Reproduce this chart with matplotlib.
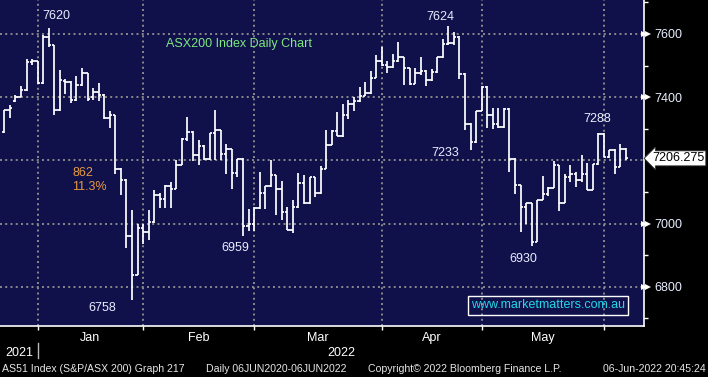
import numpy as np
import pandas as pd
import matplotlib.pyplot as plt
from matplotlib.transforms import blended_transform_factory

plt.rcParams['font.family'] = ['Liberation Sans', 'DejaVu Sans']

# trading days shown on the chart
dates = ['2021-12-21', '2021-12-22', '2021-12-23', '2021-12-24', '2021-12-29', '2021-12-30', '2021-12-31',
         '2022-01-04', '2022-01-05', '2022-01-06', '2022-01-07', '2022-01-10', '2022-01-11', '2022-01-12',
         '2022-01-13', '2022-01-14', '2022-01-17', '2022-01-18', '2022-01-19', '2022-01-20', '2022-01-21',
         '2022-01-24', '2022-01-25', '2022-01-27', '2022-01-28', '2022-01-31',
         '2022-02-01', '2022-02-02', '2022-02-03', '2022-02-04', '2022-02-07', '2022-02-08', '2022-02-09',
         '2022-02-10', '2022-02-11', '2022-02-14', '2022-02-15', '2022-02-16', '2022-02-17', '2022-02-18',
         '2022-02-21', '2022-02-22', '2022-02-23', '2022-02-24', '2022-02-25', '2022-02-28',
         '2022-03-01', '2022-03-02', '2022-03-03', '2022-03-04', '2022-03-07', '2022-03-08', '2022-03-09',
         '2022-03-10', '2022-03-11', '2022-03-14', '2022-03-15', '2022-03-16', '2022-03-17', '2022-03-18',
         '2022-03-21', '2022-03-22', '2022-03-23', '2022-03-24', '2022-03-25', '2022-03-28', '2022-03-29',
         '2022-03-30', '2022-03-31',
         '2022-04-01', '2022-04-04', '2022-04-05', '2022-04-06', '2022-04-07', '2022-04-08', '2022-04-11',
         '2022-04-12', '2022-04-13', '2022-04-14', '2022-04-19', '2022-04-20', '2022-04-21', '2022-04-22',
         '2022-04-26', '2022-04-27', '2022-04-28', '2022-04-29',
         '2022-05-02', '2022-05-03', '2022-05-04', '2022-05-05', '2022-05-06', '2022-05-09', '2022-05-10',
         '2022-05-11', '2022-05-12', '2022-05-13', '2022-05-16', '2022-05-17', '2022-05-18', '2022-05-19',
         '2022-05-20', '2022-05-23', '2022-05-24', '2022-05-25', '2022-05-26', '2022-05-27', '2022-05-30',
         '2022-05-31',
         '2022-06-01', '2022-06-02', '2022-06-03', '2022-06-06']

opens = [7290, 7359, 7387, 7401, 7422, 7512, 7513,
         7444, 7589, 7565, 7358, 7450, 7448, 7391, 7438, 7475, 7400, 7417, 7408, 7335, 7343, 7174, 7139, 6961, 6838, 6985,
         6972, 7004, 7089, 7078, 7120, 7110, 7186, 7268, 7290, 7218, 7245, 7205, 7285, 7295, 7221, 7235, 7161, 7205, 6991, 6997,
         7050, 7097, 7118, 7152, 7110, 7038, 6981, 7052, 7128, 7064, 7146, 7096, 7174, 7250, 7294, 7277, 7343, 7378, 7388, 7405, 7412, 7462, 7514,
         7502, 7494, 7514, 7526, 7491, 7443, 7478, 7484, 7454, 7480, 7526, 7567, 7570, 7592, 7473, 7316, 7258, 7356,
         7433, 7345, 7316, 7304, 7364, 7205, 7121, 7051, 7064, 6941, 7075, 7093, 7113, 7184, 7066, 7147, 7158, 7138, 7156, 7107, 7188, 7283,
         7211, 7234, 7179, 7237]
highs = [7360, 7375, 7406, 7435, 7520, 7521, 7515,
         7597, 7620, 7565, 7486, 7458, 7450, 7467, 7492, 7478, 7428, 7446, 7410, 7356, 7345, 7176, 7140, 7043, 7000, 6999,
         7043, 7107, 7096, 7121, 7131, 7202, 7270, 7336, 7292, 7264, 7247, 7287, 7359, 7297, 7251, 7237, 7205, 7207, 7047, 7052,
         7163, 7118, 7200, 7154, 7133, 7052, 7073, 7160, 7152, 7147, 7148, 7181, 7297, 7295, 7352, 7378, 7390, 7401, 7431, 7449, 7484, 7533, 7558,
         7514, 7537, 7576, 7528, 7493, 7491, 7526, 7486, 7488, 7528, 7583, 7624, 7605, 7594, 7475, 7318, 7357, 7435,
         7435, 7367, 7367, 7367, 7367, 7207, 7123, 7066, 7066, 7075, 7149, 7114, 7198, 7186, 7156, 7186, 7163, 7218, 7190, 7188, 7285, 7288,
         7234, 7235, 7253, 7238]
lows = [7288, 7335, 7385, 7400, 7420, 7503, 7443,
        7443, 7560, 7343, 7356, 7410, 7380, 7389, 7435, 7389, 7390, 7389, 7330, 7301, 7156, 7089, 6922, 6758, 6836, 6936,
        6948, 7003, 7050, 7050, 7050, 7108, 7185, 7260, 7197, 7184, 7200, 7200, 7200, 7202, 7158, 7110, 7147, 6959, 6976, 6976,
        7045, 7045, 7116, 7028, 7012, 6978, 6970, 7050, 7063, 7062, 7084, 7094, 7172, 7248, 7276, 7275, 7330, 7356, 7386, 7403, 7410, 7460, 7500,
        7477, 7492, 7512, 7438, 7438, 7441, 7470, 7435, 7452, 7478, 7524, 7565, 7565, 7459, 7295, 7233, 7256, 7355,
        7303, 7300, 7303, 7302, 7163, 7094, 6973, 6997, 6930, 6940, 7073, 7088, 7111, 7039, 7064, 7130, 7115, 7130, 7107, 7105, 7186, 7210,
        7208, 7156, 7178, 7200]
closes = [7359, 7367, 7401, 7422, 7512, 7513, 7444,
          7589, 7565, 7358, 7453, 7448, 7390, 7438, 7475, 7393, 7417, 7408, 7333, 7343, 7174, 7139, 6961, 6838, 6985, 6972,
          7004, 7089, 7078, 7120, 7110, 7186, 7268, 7290, 7218, 7245, 7205, 7285, 7295, 7221, 7235, 7161, 7205, 6991, 6997, 7050,
          7097, 7118, 7152, 7110, 7038, 6981, 7052, 7128, 7064, 7146, 7096, 7174, 7250, 7294, 7277, 7343, 7378, 7388, 7405, 7412, 7462, 7514, 7502,
          7494, 7514, 7526, 7491, 7443, 7478, 7484, 7454, 7480, 7526, 7567, 7570, 7592, 7473, 7316, 7258, 7356, 7433,
          7345, 7316, 7304, 7364, 7205, 7121, 7051, 7064, 6941, 7075, 7093, 7113, 7184, 7066, 7147, 7158, 7138, 7156, 7107, 7188, 7283, 7211,
          7234, 7179, 7237, 7206.275]

month_names = ['Jan', 'Feb', 'Mar', 'Apr', 'May']
y_ticks = [6800, 7000, 7200, 7400, 7600]
y_minor = [6700, 6900, 7100, 7300, 7500, 7700]

# (date, which end, label offset in pixels)
marks = [('2022-01-05', 'high', 8, 12), ('2022-01-27', 'low', -30, -8),
         ('2022-02-24', 'low', -8, -12), ('2022-04-20', 'high', -8, 9),
         ('2022-04-27', 'low', -25, -3), ('2022-05-12', 'low', -8, -13),
         ('2022-05-31', 'high', -7, 14)]

bg = '#10104a'
dt = pd.to_datetime(dates)
x = np.arange(len(dates))
last = closes[-1]

fig = plt.figure(figsize=(7.08, 3.77), dpi=100, facecolor='black')
ax = fig.add_axes([0, 51 / 377, 644 / 708, 326 / 377])
ax.set_facecolor(bg)
ax.set_xlim(-0.78, 115.25)
ax.set_ylim(6675.5, 7707.6)

# grid
month_end = [i for i in range(len(dt) - 1) if dt[i].month != dt[i + 1].month]
for v in month_end:
    ax.axvline(v, color='#8a8a8a', lw=1.4, ls=(0, (1, 1.7)), zorder=1)
for v in y_ticks:
    ax.axhline(v, color='#8a8a8a', lw=1.4, ls=(0, (1, 1.7)), zorder=1)

# OHLC bars
w = 0.45
ax.vlines(x, lows, highs, color='white', lw=1.25, zorder=3)
ax.hlines(opens, x - w, x, color='white', lw=1.25, zorder=3)
ax.hlines(closes, x, x + w, color='white', lw=1.25, zorder=3)

# spines and axes
for s in ['top', 'left']:
    ax.spines[s].set_visible(False)
for s in ['bottom', 'right']:
    ax.spines[s].set_color('white')
    ax.spines[s].set_linewidth(1.2)

# the last-price box sits over the 7200 label
shown = [v for v in y_ticks if abs(v - last) > 40]
ax.yaxis.tick_right()
ax.set_yticks(y_ticks, [str(v) if v in shown else '' for v in y_ticks])
ax.set_yticks(y_minor, minor=True)
ax.tick_params(axis='y', which='major', length=0, pad=7.5, labelsize=9, labelcolor='#e8eeff')
ax.tick_params(axis='y', which='minor', length=3, width=1, color='white', direction='out')
tr_y = blended_transform_factory(ax.transAxes, ax.transData)
for xo in [1.0, 1.006]:
    ax.plot([xo] * len(shown), shown, marker='>', ls='none', ms=4.5, color='white',
            transform=tr_y, clip_on=False, markeredgewidth=0)

mids = [(a + b) / 2 for a, b in zip(month_end[:-1], month_end[1:])]
ax.set_xticks(month_end, [''] * len(month_end))
ax.set_xticks(mids, month_names, minor=True)
ax.tick_params(axis='x', which='major', length=3, width=1, color='white', direction='out')
ax.tick_params(axis='x', which='minor', length=0, pad=4, labelsize=9, labelcolor='white')

# year row
tr_x = blended_transform_factory(ax.transData, ax.transAxes)
xl = ax.get_xlim()
ax.text((xl[0] + month_end[0]) / 2, -0.083, '2021', transform=tr_x, ha='center', va='center',
        color='white', fontsize=9)
ax.text((month_end[0] + xl[1]) / 2, -0.083, '2022', transform=tr_x, ha='center', va='center',
        color='white', fontsize=9)
ax.plot([month_end[0], month_end[0]], [-0.052, -0.098], color='#bbbbbb', lw=1,
        transform=tr_x, clip_on=False)

# high / low labels
for d, end, dx, dy in marks:
    i = dates.index(d)
    v = highs[i] if end == 'high' else lows[i]
    ax.annotate(f'{v:.0f}', xy=(i, v), xytext=(dx, dy), textcoords='offset pixels',
                ha='center', va='center', color='#e8eeff', fontsize=9, zorder=5)

top = max(highs[:30])
bottom = min(lows)
ax.text(12.2, 7160, f'{top - bottom:.0f}', color='#e89a3c', fontsize=9, va='center', ha='left')
ax.text(12.2, 7116, f'{(top - bottom) / top * 100:.1f}%', color='#e89a3c', fontsize=9,
        va='center', ha='left')

ax.text(0.2578, 0.865, 'ASX200 Index Daily Chart', transform=ax.transAxes, color='#7fe87f',
        fontsize=9, va='center', ha='left')
ax.text(0.851, 0.063, 'www.marketmatters.com.au', transform=ax.transAxes, color='#22d8ea',
        fontsize=9, va='center', ha='center',
        bbox=dict(boxstyle='square,pad=0.25', fc='none', ec='white', lw=1))

# last price box
ax.text(1.0125, last, f'{last:.3f}', transform=tr_y, color='black', fontsize=9,
        va='center', ha='left', clip_on=False, zorder=6,
        bbox=dict(boxstyle='larrow,pad=0.12', fc='white', ec='#333333', lw=0.6))

# footer
fy = 1 - 369 / 377
fc = '#e6e6e6'
fig.text(2 / 708, fy, 'AS51 Index (S&P/ASX 200) Graph 217', color=fc, fontsize=7.6, va='center')
fig.text(206 / 708, fy, 'Daily 06JUN2020-06JUN2022', color=fc, fontsize=7.6, va='center')
fig.text(368 / 708, fy, 'Copyright\u00a9 2022 Bloomberg Finance L.P.', color=fc, fontsize=7.6, va='center')
fig.text(706 / 708, fy, '06-Jun-2022 20:45:24', color=fc, fontsize=7.6, va='center', ha='right')

fig.savefig('out.png', dpi=100, facecolor='black')
